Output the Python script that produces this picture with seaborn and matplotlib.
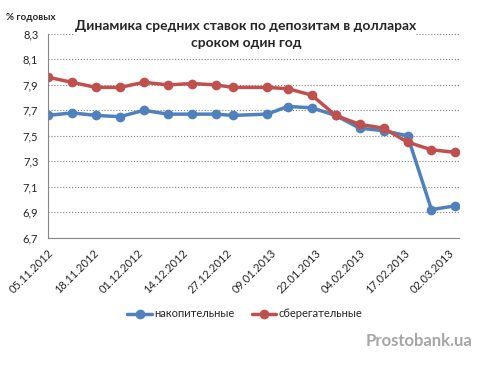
import pandas as pd
import numpy as np
import matplotlib.pyplot as plt
from matplotlib.lines import Line2D
import seaborn as sns

# Даты наблюдений (еженедельно)
dates = ['2012-11-05', '2012-11-12', '2012-11-19', '2012-11-26', '2012-12-03',
         '2012-12-10', '2012-12-17', '2012-12-24', '2012-12-29', '2013-01-08',
         '2013-01-14', '2013-01-21', '2013-01-28', '2013-02-04', '2013-02-11',
         '2013-02-18', '2013-02-25', '2013-03-04']

# Накопительные депозиты
nakop = [7.66, 7.68, 7.66, 7.65, 7.70, 7.67, 7.67, 7.67, 7.66, 7.67,
         7.73, 7.72, 7.66, 7.56, 7.54, 7.50, 6.92, 6.95]

# Сберегательные депозиты
sberez = [7.96, 7.92, 7.88, 7.88, 7.92, 7.90, 7.91, 7.90, 7.88, 7.88,
          7.87, 7.82, 7.66, 7.59, 7.56, 7.45, 7.39, 7.37]

series_names = ['накопительные', 'сберегательные']
colors = ['#4F81BD', '#C0504D']

df = pd.DataFrame({'date': pd.to_datetime(dates), series_names[0]: nakop, series_names[1]: sberez})
long_df = df.melt(id_vars='date', var_name='тип', value_name='ставка')

sns.set_style('white')
plt.rcParams['font.family'] = ['Lato', 'DejaVu Sans']

fig = plt.figure(figsize=(4.82, 3.65), dpi=100)
ax = fig.add_axes([0.0996, 0.349, 0.8524, 0.558])

sns.lineplot(data=long_df, x='date', y='ставка', hue='тип', palette=colors,
             marker='o', markersize=7, markeredgewidth=0, linewidth=2.5,
             legend=False, ax=ax)

# Оси
ax.set_ylim(6.7, 8.3)
yt = np.arange(6.7, 8.31, 0.2)
ax.set_yticks(yt)
ax.set_yticklabels([f'{v:.1f}'.replace('.', ',') for v in yt], fontsize=8)
ax.yaxis.grid(True, linestyle=':', color='#808080', linewidth=0.8)
ax.xaxis.grid(False)

start = pd.Timestamp('2012-11-05')
ax.set_xlim(start, pd.Timestamp('2013-03-05'))
xt = [start + pd.Timedelta(days=13 * i) for i in range(10)]
ax.set_xticks(xt)
ax.set_xticklabels([d.strftime('%d.%m.%Y') for d in xt], rotation=45,
                   ha='right', rotation_mode='anchor', fontsize=8)
ax.tick_params(axis='x', direction='out', length=4, color='#868686', pad=3)
ax.tick_params(axis='y', length=0, pad=7)
ax.set_xlabel('')
ax.set_ylabel('')

for s in ['top', 'right']:
    ax.spines[s].set_visible(False)
for s in ['left', 'bottom']:
    ax.spines[s].set_color('#868686')
    ax.spines[s].set_linewidth(0.8)

# Заголовки
fig.text(0.51, 0.905, 'Динамика средних ставок по депозитам в долларах\nсроком один год',
         ha='center', va='center', fontsize=10, fontweight='bold', linespacing=1.45,
         bbox=dict(facecolor='white', edgecolor='none', pad=0))
fig.text(0.012, 0.953, '% годовых', fontsize=7, fontweight='bold', va='center')

# Легенда
handles = [Line2D([0], [0], color=c, linewidth=2.5, marker='o', markersize=7,
                  markeredgewidth=0) for c in colors]
fig.legend(handles, series_names, loc='center', bbox_to_anchor=(0.508, 0.14),
           ncol=2, frameon=False, fontsize=8, handlelength=2.2,
           handletextpad=0.2, columnspacing=1.6)

fig.text(0.98, 0.065, 'Prostobank.ua', ha='right', va='center', fontsize=12,
         fontweight='bold', color='#A6A6A6')

fig.savefig('out.png', dpi=100)
